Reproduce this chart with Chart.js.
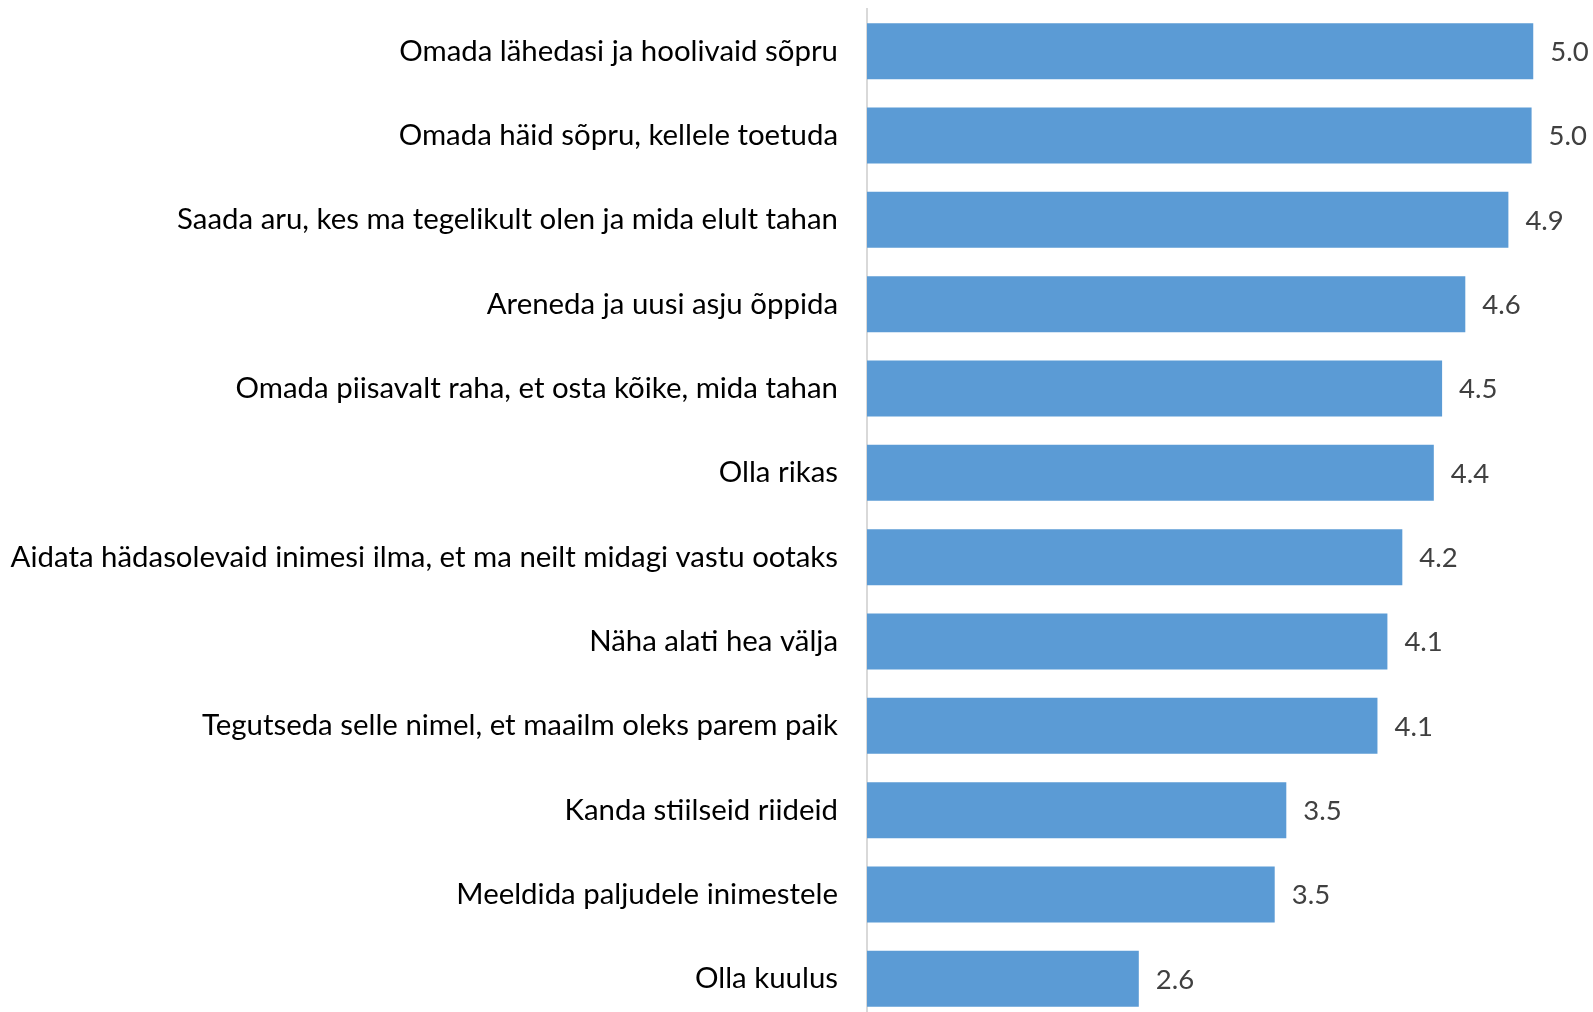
<!DOCTYPE html>
<html>
<head>
<meta charset="utf-8">
<script src="https://cdn.jsdelivr.net/npm/chart.js@4/dist/chart.umd.min.js"></script>
<style>
  html, body { margin: 0; padding: 0; background: #ffffff; overflow: hidden; }
  #wrap { position: relative; width: 1593px; height: 1030px; }
</style>
</head>
<body>
<div id="wrap"><canvas id="c"></canvas></div>
<script>
const categories = [
  "Omada lähedasi ja hoolivaid sõpru",
  "Omada häid sõpru, kellele toetuda",
  "Saada aru, kes ma tegelikult olen ja mida elult tahan",
  "Areneda ja uusi asju õppida",
  "Omada piisavalt raha, et osta kõike, mida tahan",
  "Olla rikas",
  "Aidata hädasolevaid inimesi ilma, et ma neilt midagi vastu ootaks",
  "Näha alati hea välja",
  "Tegutseda selle nimel, et maailm oleks parem paik",
  "Kanda stiilseid riideid",
  "Meeldida paljudele inimestele",
  "Olla kuulus"
];
const values = [5.02, 5.01, 4.87, 4.61, 4.47, 4.42, 4.23, 4.14, 4.08, 3.53, 3.46, 2.64];
const axisMin = 1;
const axisMax = 5.29;

const FONT = 'Lato';

const valueLabels = {
  id: 'valueLabels',
  afterDatasetsDraw(chart) {
    const ctx = chart.ctx;
    const meta = chart.getDatasetMeta(0);
    ctx.save();
    ctx.font = '27.5px ' + FONT;
    ctx.fillStyle = '#404040';
    ctx.textAlign = 'left';
    ctx.textBaseline = 'middle';
    meta.data.forEach((bar, i) => {
      ctx.fillText(values[i].toFixed(1), bar.x + 17, bar.y + 1);
    });
    ctx.restore();
  }
};

new Chart(document.getElementById('c'), {
  type: 'bar',
  data: {
    labels: categories,
    datasets: [{
      data: values,
      backgroundColor: '#5B9BD5',
      borderWidth: 0,
      barPercentage: 0.664,
      categoryPercentage: 1.0
    }]
  },
  options: {
    indexAxis: 'y',
    responsive: true,
    maintainAspectRatio: false,
    animation: false,
    layout: { padding: { top: 9, bottom: 9, left: 0, right: 15 } },
    plugins: { legend: { display: false }, tooltip: { enabled: false } },
    scales: {
      x: {
        display: false,
        min: axisMin,
        max: axisMax
      },
      y: {
        grid: { display: false, drawTicks: false },
        border: { display: true, color: '#d9d9d9', width: 2 },
        ticks: {
          color: '#000000',
          padding: 29,
          font: { family: FONT, size: 29.4 }
        },
        afterFit(scale) {
          scale.width = 867;
          scale.paddingTop = 0;
          scale.paddingBottom = 0;
        }
      }
    }
  },
  plugins: [valueLabels]
});
</script>
</body>
</html>
